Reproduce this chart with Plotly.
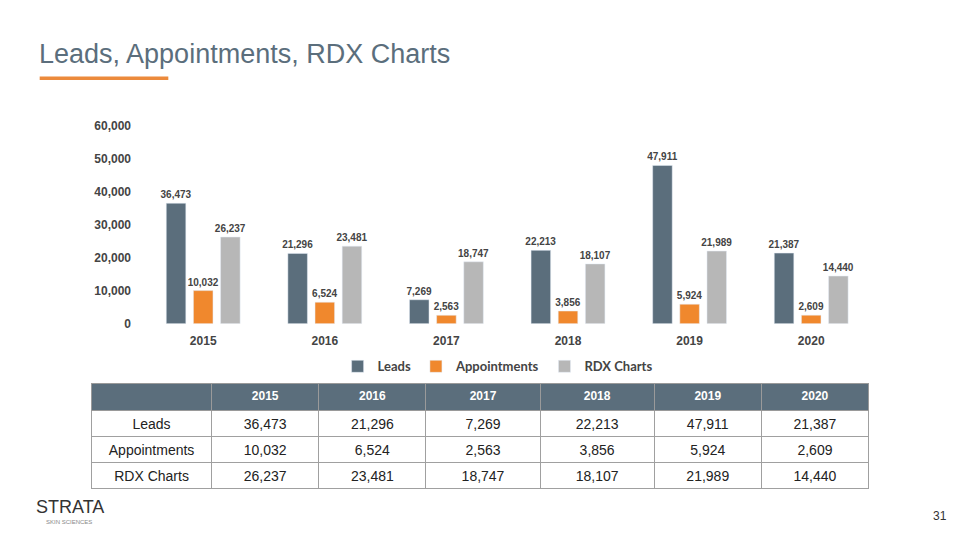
import plotly.graph_objects as go

years = ['2015', '2016', '2017', '2018', '2019', '2020']
leads = [36473, 21296, 7269, 22213, 47911, 21387]
appointments = [10032, 6524, 2563, 3856, 5924, 2609]
rdx_charts = [26237, 23481, 18747, 18107, 21989, 14440]

slate = '#5b6e7c'
orange = '#f0882d'
grey = '#b7b7b7'
bold = dict(family='Liberation Sans, Arial', weight='bold', color='#444')

fig = go.Figure()
for name, vals, col in [('Leads', leads, slate), ('Appointments', appointments, orange), ('RDX Charts', rdx_charts, grey)]:
    fig.add_trace(go.Bar(x=years, y=vals, name=name, marker_color=col,
                         text=[f'{v:,}' for v in vals], textposition='outside',
                         textangle=0, constraintext='none',
                         textfont=dict(size=10, **bold), cliponaxis=False))

# table under chart
cells = [['Leads', 'Appointments', 'RDX Charts']] + [
    [f'{leads[i]:,}', f'{appointments[i]:,}', f'{rdx_charts[i]:,}'] for i in range(len(years))]
fig.add_trace(go.Table(
    domain=dict(x=[0.087, 0.897], y=[0.09, 0.3]),
    columnwidth=[121, 108, 108, 115, 115, 108, 108],
    header=dict(values=[''] + years, fill_color=slate, height=27,
                line=dict(color='#9a9a9a', width=1),
                font=dict(color='white', size=12, family='Liberation Sans, Arial', weight='bold')),
    cells=dict(values=cells, fill_color='white', height=26,
               line=dict(color='#a0a0a0', width=1),
               font=dict(color='#222', size=14, family='Liberation Sans, Arial')),
))

fig.update_layout(
    width=960, height=540, margin=dict(l=0, r=0, t=0, b=0),
    paper_bgcolor='white', plot_bgcolor='white',
    barmode='group', bargap=0.33, bargroupgap=0.28,
    xaxis=dict(domain=[0.14, 0.9], showline=False, ticks='outside', ticklen=6, tickcolor='white',
               tickfont=dict(size=12, **bold)),
    yaxis=dict(domain=[0.413, 0.79], range=[0, 60000], dtick=10000, tickformat=',',
               showgrid=False, zeroline=False, ticks='outside', ticklen=8, tickcolor='white',
               tickfont=dict(size=12, **bold)),
    legend=dict(orientation='h', x=0.51, xanchor='center', y=0.332, yanchor='middle',
                font=dict(size=13, family='Lato, Arial', weight='bold', color='#444'),
                traceorder='normal'),
    showlegend=True,
    font=dict(family='Liberation Sans, Arial'),
)

fig.add_annotation(text='Leads, Appointments, RDX Charts', xref='paper', yref='paper',
                   x=0.03, y=1 - 40 / 540, xanchor='left', yanchor='middle', showarrow=False,
                   font=dict(size=27, color=slate, family='Liberation Sans, Arial'))
fig.add_shape(type='line', xref='paper', yref='paper', x0=0.033, x1=0.167,
              y0=1 - 65 / 540, y1=1 - 65 / 540, line=dict(color='#ec8a3c', width=3.5))
fig.add_annotation(text='STRATA', xref='paper', yref='paper', x=0.027, y=1 - 505 / 540,
                   xanchor='left', yanchor='middle', showarrow=False,
                   font=dict(size=18, color='#333', family='Liberation Sans, Arial'))
fig.add_annotation(text='SKIN SCIENCES', xref='paper', yref='paper', x=0.037, y=1 - 520 / 540,
                   xanchor='left', yanchor='middle', showarrow=False,
                   font=dict(size=6, color='#888', family='Liberation Sans, Arial'))
fig.add_annotation(text='31', xref='paper', yref='paper', x=0.98, y=1 - 514 / 540,
                   xanchor='right', yanchor='middle', showarrow=False,
                   font=dict(size=12, color='#333', family='Liberation Sans, Arial'))

fig.write_html('out.html')
